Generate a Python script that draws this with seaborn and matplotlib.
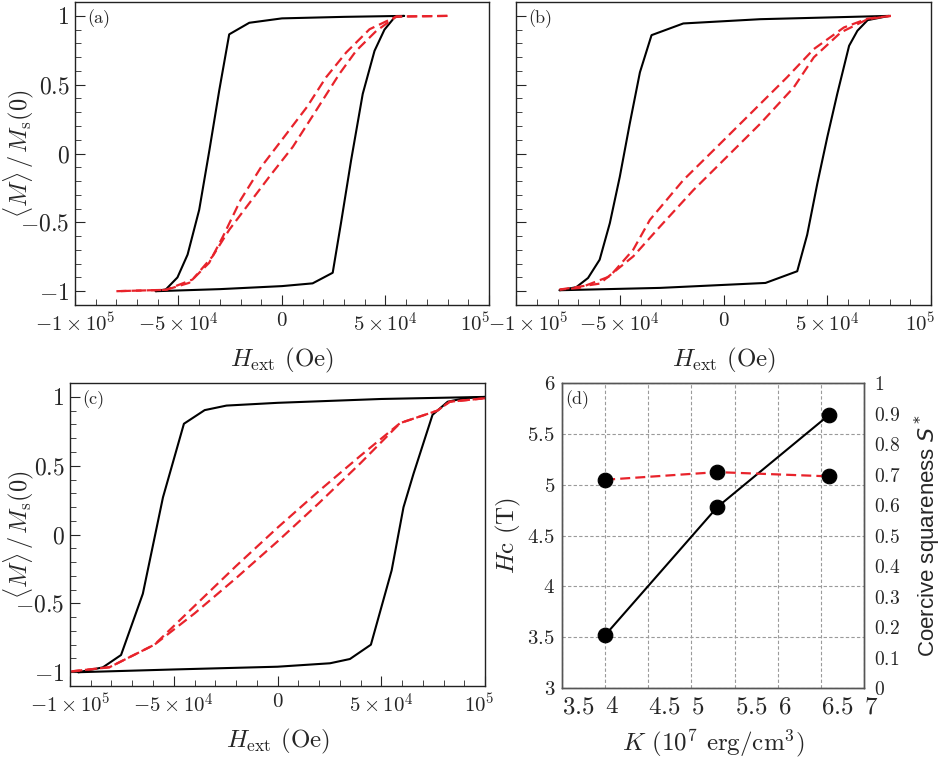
import numpy as np
import pandas as pd
import seaborn as sns
import matplotlib
matplotlib.use("Agg")
import matplotlib.pyplot as plt
from matplotlib.ticker import MultipleLocator, FixedLocator, FixedFormatter
from matplotlib.transforms import ScaledTranslation

# field values in units of 1e4 Oe, magnetisation normalised
# panel (a)
a_black_up_h = [-6.1, -3.0, 0.0, 1.48, 2.45, 2.85, 3.34, 3.9, 4.47, 4.95, 5.44, 5.9]
a_black_up_m = [-1.0, -0.985, -0.963, -0.943, -0.866, -0.505, -0.048, 0.433, 0.746, 0.90, 0.99, 1.0]
a_black_dn_h = [5.9, 3.0, 0.0, -1.58, -2.55, -3.03, -3.5, -4.0, -4.56, -5.05, -5.61, -6.1]
a_black_dn_m = [1.0, 0.993, 0.982, 0.95, 0.866, 0.46, 0.03, -0.409, -0.734, -0.90, -0.987, -1.0]
a_red_up_h = [-8.0, -5.6, -4.32, -3.35, -2.55, -1.58, -0.61, 0.52, 1.65, 2.77, 3.58, 4.55, 5.52, 8.0]
a_red_up_m = [-1.0, -0.99, -0.915, -0.746, -0.554, -0.361, -0.168, 0.048, 0.313, 0.578, 0.746, 0.89, 0.995, 1.0]
a_red_dn_h = [8.0, 5.52, 4.23, 3.10, 2.13, 1.2, 0.1, -1.0, -2.0, -2.85, -3.52, -4.48, -5.6, -8.0]
a_red_dn_m = [1.0, 0.995, 0.903, 0.734, 0.554, 0.337, 0.12, -0.096, -0.337, -0.602, -0.794, -0.939, -0.99, -1.0]

# panel (b)
b_black_up_h = [-7.9, -3.06, 2.02, 3.55, 4.03, 4.52, 5.0, 5.48, 6.05, 6.45, 6.94, 7.98]
b_black_up_m = [-0.993, -0.976, -0.94, -0.855, -0.59, -0.217, 0.12, 0.434, 0.783, 0.892, 0.969, 1.0]
b_black_dn_h = [7.98, 1.77, -1.94, -3.47, -4.03, -4.52, -5.0, -5.48, -5.97, -6.53, -7.1, -7.9]
b_black_dn_m = [1.0, 0.976, 0.945, 0.86, 0.59, 0.217, -0.169, -0.506, -0.771, -0.904, -0.971, -0.993]
b_red_up_h = [-7.9, -5.97, -4.35, -3.06, -1.45, 0.16, 1.77, 3.39, 4.35, 5.65, 6.94, 8.06]
b_red_up_m = [-0.988, -0.945, -0.747, -0.53, -0.265, -0.024, 0.217, 0.482, 0.699, 0.88, 0.976, 1.0]
b_red_dn_h = [8.06, 6.94, 5.8, 4.35, 3.06, 1.45, -0.32, -1.94, -3.55, -4.35, -5.48, -6.94, -7.9]
b_red_dn_m = [1.0, 0.98, 0.916, 0.759, 0.554, 0.313, 0.048, -0.193, -0.482, -0.698, -0.892, -0.976, -0.988]

# panel (c)
c_black_up_h = [-9.6, -5.0, 0.0, 2.53, 3.49, 4.5, 5.5, 6.07, 6.55, 7.47, 8.2, 9.0, 10.0]
c_black_up_m = [-1.0, -0.98, -0.96, -0.935, -0.904, -0.80, -0.26, 0.198, 0.44, 0.87, 0.965, 0.99, 1.0]
c_black_dn_h = [10.0, 5.0, 0.0, -2.46, -3.51, -4.51, -5.52, -6.49, -7.54, -8.42, -9.6]
c_black_dn_m = [1.0, 0.985, 0.957, 0.937, 0.904, 0.805, 0.27, -0.43, -0.875, -0.965, -1.0]
c_red_up_h = [-10.0, -8.1, -5.93, -4.0, -2.0, 0.0, 2.0, 4.0, 5.91, 7.7, 8.3, 10.0]
c_red_up_m = [-0.995, -0.964, -0.80, -0.573, -0.317, -0.05, 0.229, 0.519, 0.81, 0.90, 0.965, 0.99]
c_red_dn_h = [10.0, 8.3, 7.7, 5.91, 4.0, 2.0, 0.0, -2.0, -4.0, -5.93, -8.1, -10.0]
c_red_dn_m = [0.99, 0.965, 0.90, 0.81, 0.573, 0.317, 0.05, -0.229, -0.519, -0.80, -0.964, -0.995]

# panel (d)
k_vals = [4.0, 5.3, 6.6]
hc_vals = [3.52, 4.78, 5.69]
sq_vals = [0.683, 0.708, 0.694]

field_ticks = [-1e5, -5e4, 0, 5e4, 1e5]
field_labels = [r"$-1\times10^5$", r"$-5\times10^4$", r"$0$", r"$5\times10^4$", r"$10^5$"]
m_ticks = [-1, -0.5, 0, 0.5, 1]
m_labels = [r"$-1$", r"$-0.5$", r"$0$", r"$0.5$", r"$1$"]

RED = "#e8232b"

sns.set_style("ticks")
plt.rcParams["font.family"] = ["cmr10", "DejaVu Serif"]
plt.rcParams["mathtext.fontset"] = "cm"
plt.rcParams["axes.formatter.use_mathtext"] = True
plt.rcParams["axes.unicode_minus"] = False


def draw_loop(ax, branches, tag, ylab_x=None):
    for h, m, kind in branches:
        if kind == "black":
            sns.lineplot(x=np.array(h) * 1e4, y=m, sort=False, estimator=None,
                         ax=ax, color="black", lw=1.5)
        else:
            sns.lineplot(x=np.array(h) * 1e4, y=m, sort=False, estimator=None,
                         ax=ax, color=RED, lw=1.6, linestyle=(0, (4.5, 2.3)))
    ax.set_xlim(-1e5, 1e5)
    ax.set_ylim(-1.1, 1.1)
    ax.xaxis.set_major_locator(FixedLocator(field_ticks))
    ax.xaxis.set_major_formatter(FixedFormatter(field_labels))
    ax.xaxis.set_minor_locator(MultipleLocator(1e4))
    ax.yaxis.set_major_locator(FixedLocator(m_ticks))
    ax.yaxis.set_minor_locator(MultipleLocator(0.1))
    if ylab_x is not None:
        ax.yaxis.set_major_formatter(FixedFormatter(m_labels))
        ax.set_ylabel(r"$\langle M\rangle\,/\,M_{\mathrm{s}}(0)$", fontsize=17.5)
        ax.yaxis.set_label_coords(ylab_x, 0.5)
    else:
        ax.set_yticklabels([])
        ax.set_ylabel("")
    ax.set_xlabel(r"$H_{\mathrm{ext}}$ (Oe)", fontsize=18)
    ax.xaxis.set_label_coords(0.5, -0.135)
    ax.tick_params(which="both", direction="in", top=False, right=False)
    ax.tick_params(which="major", length=7, width=0.8)
    ax.tick_params(which="minor", length=4.5, width=0.6)
    ax.tick_params(axis="x", labelsize=15, pad=5)
    ax.tick_params(axis="y", labelsize=17, pad=4)
    for s in ax.spines.values():
        s.set_linewidth(1.0)
        s.set_color("#222222")
    ax.text(0.03, 0.975, tag, transform=ax.transAxes, fontsize=13, va="top", ha="left")


fig = plt.figure(figsize=(9.42, 7.59), dpi=100)
ax_a = fig.add_axes([0.0796, 0.5982, 0.4395, 0.399])
ax_b = fig.add_axes([0.5478, 0.5982, 0.4406, 0.399])
ax_c = fig.add_axes([0.0743, 0.0962, 0.4406, 0.399])
ax_d = fig.add_axes([0.5966, 0.0935, 0.3206, 0.4018])

draw_loop(ax_a, [(a_black_up_h, a_black_up_m, "black"), (a_black_dn_h, a_black_dn_m, "black"),
                 (a_red_up_h, a_red_up_m, "red"), (a_red_dn_h, a_red_dn_m, "red")], "(a)",
          ylab_x=-0.095)
draw_loop(ax_b, [(b_black_up_h, b_black_up_m, "black"), (b_black_dn_h, b_black_dn_m, "black"),
                 (b_red_up_h, b_red_up_m, "red"), (b_red_dn_h, b_red_dn_m, "red")], "(b)")
draw_loop(ax_c, [(c_black_up_h, c_black_up_m, "black"), (c_black_dn_h, c_black_dn_m, "black"),
                 (c_red_up_h, c_red_up_m, "red"), (c_red_dn_h, c_red_dn_m, "red")], "(c)",
          ylab_x=-0.083)

# nudge the end labels like the original
lab = ax_a.xaxis.get_major_ticks()[-1].label1
lab.set_transform(lab.get_transform() + ScaledTranslation(-0.14, 0, fig.dpi_scale_trans))
lab = ax_b.xaxis.get_major_ticks()[0].label1
lab.set_transform(lab.get_transform() + ScaledTranslation(0.12, 0, fig.dpi_scale_trans))
lab = ax_b.xaxis.get_major_ticks()[-1].label1
lab.set_transform(lab.get_transform() + ScaledTranslation(-0.11, 0, fig.dpi_scale_trans))
lab = ax_c.xaxis.get_major_ticks()[-1].label1
lab.set_transform(lab.get_transform() + ScaledTranslation(-0.06, 0, fig.dpi_scale_trans))

# panel (d): coercive field and squareness
df_d = pd.DataFrame({"K": k_vals, "Hc": hc_vals, "S": sq_vals})
ax_d.grid(True, linestyle=(0, (3, 2)), color="#9a9a9a", lw=0.8)
ax_d.set_axisbelow(True)
sns.lineplot(data=df_d, x="K", y="Hc", ax=ax_d, color="black", lw=1.5, estimator=None)
sns.scatterplot(data=df_d, x="K", y="Hc", ax=ax_d, color="black", s=110, edgecolor="black",
                zorder=5)
ax_d2 = ax_d.twinx()
sns.lineplot(data=df_d, x="K", y="S", ax=ax_d2, color=RED, lw=1.6, estimator=None,
             linestyle=(0, (4.5, 2.3)))
sns.scatterplot(data=df_d, x="K", y="S", ax=ax_d2, color="black", s=110, edgecolor="black",
                zorder=5)
ax_d.set_xlim(3.5, 7)
ax_d.set_ylim(3, 6)
ax_d2.set_ylim(0, 1)
k_ticks = [3.5, 4, 4.5, 5, 5.5, 6, 6.5, 7]
ax_d.xaxis.set_major_locator(FixedLocator(k_ticks))
ax_d.xaxis.set_major_formatter(FixedFormatter([f"${t:g}$" for t in k_ticks]))
hc_ticks = [3, 3.5, 4, 4.5, 5, 5.5, 6]
ax_d.yaxis.set_major_locator(FixedLocator(hc_ticks))
ax_d.yaxis.set_major_formatter(FixedFormatter([f"${t:g}$" for t in hc_ticks]))
s_ticks = [round(0.1 * i, 1) for i in range(11)]
ax_d2.yaxis.set_major_locator(FixedLocator(s_ticks))
ax_d2.yaxis.set_major_formatter(FixedFormatter([f"${t:g}$" for t in s_ticks]))
ax_d.tick_params(axis="both", length=0)
ax_d2.tick_params(axis="both", length=0)
ax_d.tick_params(axis="x", labelsize=18, pad=6)
ax_d.tick_params(axis="y", labelsize=15, pad=5)
ax_d2.tick_params(axis="y", labelsize=14, pad=7)
for t in ax_d.get_xticklabels():
    t.set_horizontalalignment("left")
ax_d.set_xlabel(r"$K$ ($10^7$ erg/cm$^3$)", fontsize=18)
ax_d.xaxis.set_label_coords(0.5, -0.13)
ax_d.set_ylabel(r"$H$c (T)", fontsize=18)
ax_d.yaxis.set_label_coords(-0.13, 0.5)
ax_d2.set_ylabel(r"Coercive squareness $S^*$", fontsize=16, family="Liberation Sans",
                 math_fontfamily="dejavusans")
ax_d2.yaxis.set_label_coords(1.16, 0.5)
for s in list(ax_d.spines.values()) + list(ax_d2.spines.values()):
    s.set_linewidth(1.0)
    s.set_color("#555555")
ax_d.text(0.012, 0.975, "(d)", transform=ax_d.transAxes, fontsize=13, va="top", ha="left")

fig.savefig("out.png", dpi=100)
